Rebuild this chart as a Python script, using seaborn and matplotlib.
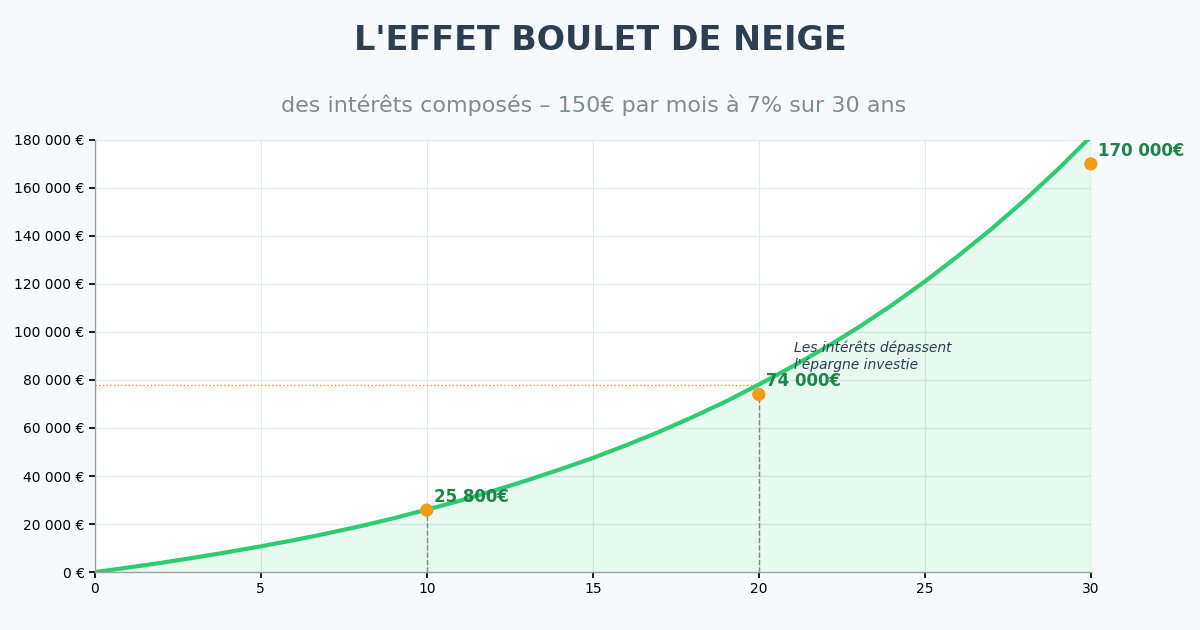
import pandas as pd
import seaborn as sns
import matplotlib.pyplot as plt
from matplotlib.ticker import FuncFormatter

# capital accumulated per year
years = list(range(0, 31))
capital = [0, 1860, 3850, 6000, 8300, 10700, 13300, 16100, 19100, 22400,
           26000, 29700, 33800, 38100, 42700, 47500, 52800, 58400, 64500, 71000,
           78100, 85500, 93400, 101900, 111100, 121000, 131600, 142800, 154800, 167600,
           181300]

# milestones marked on the chart
milestone_years = [10, 20, 30]
milestone_values = [25800, 74000, 170000]
milestone_labels = ["25 800€", "74 000€", "170 000€"]

crossover_level = 78000
crossover_year = 20

df = pd.DataFrame({"year": years, "capital": capital})

sns.set_theme(style="whitegrid")
plt.rcParams['font.family'] = ['DejaVu Sans']

fig = plt.figure(figsize=(12, 6.3), dpi=100, facecolor="#f8f9fa")
ax = fig.add_axes([0.079, 0.092, 0.830, 0.686])
ax.set_facecolor("white")

ax.fill_between(df.year, df.capital, color="#2ecc71", alpha=0.11, lw=0)
sns.lineplot(data=df, x="year", y="capital", color="#2ecc71", lw=3, ax=ax, zorder=3)

# horizontal dotted line up to the crossover
ax.plot([0, crossover_year], [crossover_level, crossover_level], ls=":", color="#f39c12", lw=1, zorder=2)

# milestone drop lines and dots
for i, (yr, val, lab) in enumerate(zip(milestone_years, milestone_values, milestone_labels)):
    if i < 2:
        ax.plot([yr, yr], [0, val], ls="--", color="#7f8c8d", lw=1, zorder=2)
    else:
        ax.plot([yr, yr], [0, val], ls="--", color="#c8d6cf", lw=1, zorder=2)
    ax.annotate(lab, (yr, val), xytext=(5, 3), textcoords="offset points",
                fontsize=12, fontweight="bold", color="#1e8449", va="bottom", ha="left",
                annotation_clip=False, zorder=5)
sns.scatterplot(x=milestone_years, y=milestone_values, color="#f39c12", s=90,
                edgecolor="none", ax=ax, zorder=4, clip_on=False)

ax.text(21.05, 96500, "Les intérêts dépassent\nl'épargne investie", fontsize=10,
        style="italic", color="#2c3e50", va="top", ha="left", linespacing=1.2)

ax.set_xlim(0, 30)
ax.set_ylim(0, 180000)
ax.set_xticks(range(0, 31, 5))
ax.set_yticks(range(0, 180001, 20000))
ax.yaxis.set_major_formatter(FuncFormatter(lambda v, p: f"{int(v):,} €".replace(",", " ")))
ax.tick_params(axis="both", labelsize=10, colors="black", length=4, left=True, bottom=True)
ax.set_xlabel("")
ax.set_ylabel("")
ax.grid(True, color="#e5e8e8", lw=0.8)

for side in ["top", "right"]:
    ax.spines[side].set_visible(False)
for side in ["left", "bottom"]:
    ax.spines[side].set_color("#95a5a6")
    ax.spines[side].set_linewidth(1)

fig.text(0.5, 0.936, "L'EFFET BOULET DE NEIGE", ha="center", va="center",
         fontsize=24, fontweight="bold", color="#2c3e50")
fig.text(0.495, 0.833, "des intérêts composés – 150€ par mois à 7% sur 30 ans", ha="center",
         va="center", fontsize=16, color="#7f8c8d")

fig.savefig("out.png", dpi=100, facecolor=fig.get_facecolor())
